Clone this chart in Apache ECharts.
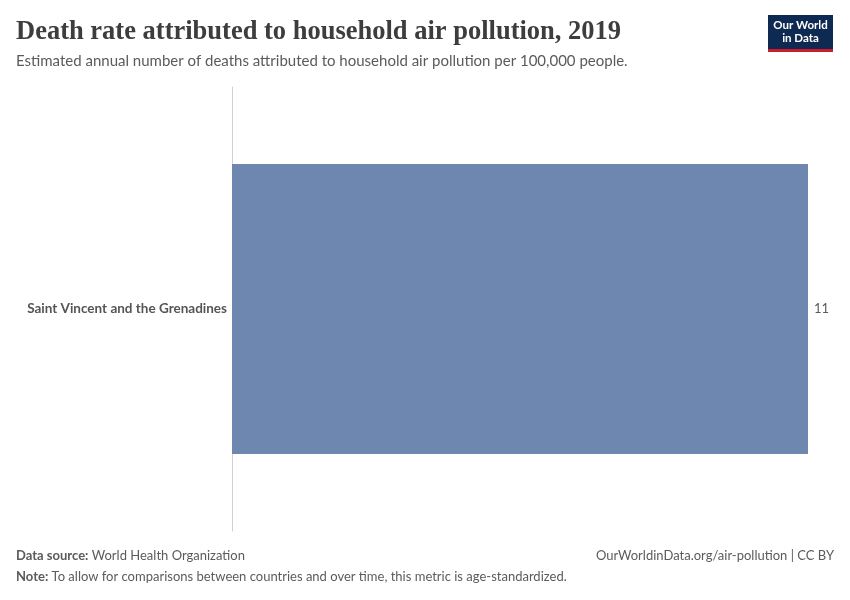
<!DOCTYPE html>
<html>
<head>
<meta charset="utf-8">
<script src="https://cdn.jsdelivr.net/npm/echarts@6/dist/echarts.min.js"></script>
<style>
html,body{margin:0;padding:0;background:#fff;}
#chart{width:850px;height:600px;}
</style>
</head>
<body>
<div id="chart"></div>
<script>
var categories = ["Saint Vincent and the Grenadines"];
var values = [11];
var valueLabels = ["11"];

var chart = echarts.init(document.getElementById('chart'));
var option = {
  backgroundColor: '#ffffff',
  animation: false,
  grid: {left: 232, right: 42, top: 87, bottom: 69},
  xAxis: {
    type: 'value', min: 0, max: 11,
    axisLine: {show: false}, axisTick: {show: false},
    axisLabel: {show: false}, splitLine: {show: false}
  },
  yAxis: {
    type: 'category', data: categories, inverse: true,
    axisLine: {show: true, lineStyle: {color: '#d0d0d0', width: 1}},
    axisTick: {show: false},
    axisLabel: {
      color: '#555555', fontFamily: 'Lato', fontWeight: 'bold', fontSize: 13.5, margin: 5
    }
  },
  series: [{
    type: 'bar',
    data: values,
    barWidth: 290,
    itemStyle: {color: '#6e87b0'},
    label: {
      show: true, position: 'right', distance: 6,
      color: '#5b5b5b', fontFamily: 'Lato', fontSize: 13,
      formatter: function (p) { return valueLabels[p.dataIndex]; }
    }
  }],
  graphic: [
    {type: 'text', left: 16, top: 19, style: {
      text: 'Death rate attributed to household air pollution, 2019',
      font: 'bold 26.5px "Liberation Serif", "DejaVu Serif", serif', fill: '#3d3d3d'}},
    {type: 'text', left: 16, top: 54, style: {
      text: 'Estimated annual number of deaths attributed to household air pollution per 100,000 people.',
      font: '15px Lato, "Noto Sans", sans-serif', fill: '#5b5b5b'}},
    {type: 'rect', shape: {x: 768, y: 15, width: 65, height: 34}, style: {fill: '#0f2a52'}},
    {type: 'rect', shape: {x: 768, y: 49, width: 65, height: 3}, style: {fill: '#cc1e2a'}},
    {type: 'text', x: 800.5, y: 18.5, style: {
      text: 'Our World\nin Data', align: 'center', lineHeight: 13,
      font: 'bold 11.5px Lato, sans-serif', fill: '#ffffff'}},
    {type: 'text', left: 16, top: 549, style: {
      rich: {b: {font: 'bold 13px Lato, sans-serif', fill: '#5b5b5b'},
             n: {font: '13px Lato, sans-serif', fill: '#5b5b5b'}},
      text: '{b|Data source:} {n|World Health Organization}'}},
    {type: 'text', right: 16, top: 549, style: {
      text: 'OurWorldinData.org/air-pollution | CC BY',
      font: '13px Lato, sans-serif', fill: '#5b5b5b'}},
    {type: 'text', left: 16, top: 570, style: {
      rich: {b: {font: 'bold 13px Lato, sans-serif', fill: '#5b5b5b'},
             n: {font: '13px Lato, sans-serif', fill: '#5b5b5b'}},
      text: '{b|Note:} {n|To allow for comparisons between countries and over time, this metric is age-standardized.}'}}
  ]
};
chart.setOption(option);
</script>
</body>
</html>
